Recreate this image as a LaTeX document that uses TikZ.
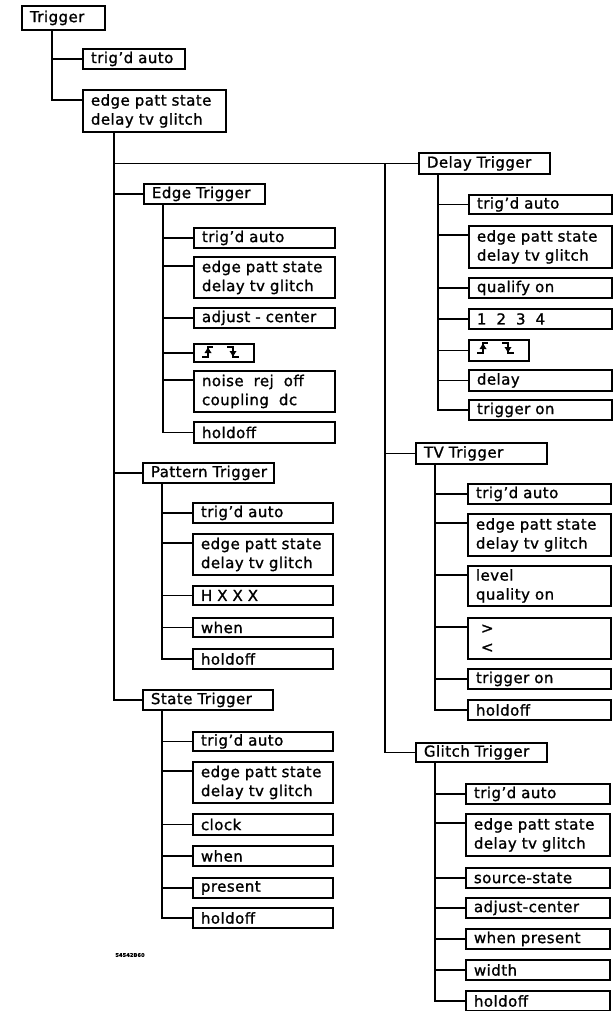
\documentclass[tikz,border=0pt]{standalone}
\usepackage{fontspec}
\setmainfont[LetterSpace=3,FakeBold=1.2]{DejaVu Sans}
\begin{document}
\begin{tikzpicture}[x=1pt,y=-1pt,
  box/.style={draw, line width=1.9pt, anchor=north west, inner xsep=8pt, inner ysep=0pt,
    align=left, font=\fontsize{15}{19}\selectfont},
  conn/.style={line width=1.8pt},
  sym/.style={line width=1.5pt}]
\useasboundingbox (0,0) rectangle (615,1011);
\newcommand\bx[6]{\pgfmathsetmacro\tw{#4-16}\node[box, text width=\tw pt, minimum height=#5pt] (#1) at (#2,#3) {#6};}
\newcommand\edgesym[1]{%
  \begin{scope}[shift={(#1.north west)}]
    \draw[sym] (9,14) -- (15,14) -- (15,4) -- (20,4);
    \fill (15,4.5) -- (11.5,10) -- (18.5,10) -- cycle;
    \draw[sym] (34,4) -- (40,4) -- (40,14) -- (46,14);
    \fill (40,13.5) -- (36.5,8) -- (43.5,8) -- cycle;
  \end{scope}}

% top level
\bx{trig}{21}{5}{83}{24}{Trigger}
\bx{a1}{82}{48}{102}{20}{trig'd auto}
\bx{a2}{82}{89}{143}{42}{edge patt state\\delay tv glitch}

% Edge Trigger
\bx{et}{143}{183}{121}{20}{Edge Trigger}
\bx{e1}{193}{227}{141}{20}{trig'd auto}
\bx{e2}{193}{256}{141}{41}{edge patt state\\delay tv glitch}
\bx{e3}{193}{307}{141}{20}{adjust - center}
\bx{e4}{193}{343}{60}{18}{}
\bx{e5}{193}{370}{141}{41}{noise\ \ rej\ \ off\\coupling\ \ dc}
\bx{e6}{193}{421}{141}{21}{holdoff}

% Pattern Trigger
\bx{pt}{142}{462}{131}{20}{\mbox{Pattern Trigger}}
\bx{p1}{192}{502}{140}{20}{trig'd auto}
\bx{p2}{192}{533}{140}{41}{edge patt state\\delay tv glitch}
\bx{p3}{192}{585}{140}{19}{H X X X}
\bx{p4}{192}{617}{140}{19}{when}
\bx{p5}{192}{648}{140}{20}{holdoff}

% State Trigger
\bx{st}{142}{689}{130}{20}{State Trigger}
\bx{s1}{192}{731}{140}{19}{trig'd auto}
\bx{s2}{192}{761}{140}{41}{edge patt state\\delay tv glitch}
\bx{s3}{192}{813}{140}{21}{clock}
\bx{s4}{192}{845}{140}{20}{when}
\bx{s5}{192}{877}{140}{20}{present}
\bx{s6}{192}{907}{140}{20}{holdoff}

% Delay Trigger
\bx{dt}{418}{152}{131}{21}{Delay Trigger}
\bx{d1}{468}{194}{143}{19}{trig'd auto}
\bx{d2}{468}{225}{143}{42}{edge patt state\\delay tv glitch}
\bx{d3}{468}{277}{143}{20}{qualify on}
\bx{d4}{468}{308}{143}{20}{1\ \ 2\ \ 3\ \ 4}
\bx{d5}{468}{339}{60}{21}{}
\bx{d6}{468}{369}{143}{21}{delay}
\bx{d7}{468}{399}{143}{20}{trigger on}

% TV Trigger
\bx{tv}{415}{442}{131}{21}{TV Trigger}
\bx{v1}{467}{483}{143}{20}{trig'd auto}
\bx{v2}{467}{513}{143}{42}{edge patt state\\delay tv glitch}
\bx{v3}{467}{565}{143}{40}{level\\quality on}
\bx{v4}{467}{617}{143}{41}{\ >\\\ <}
\bx{v5}{467}{668}{143}{20}{trigger on}
\bx{v6}{467}{699}{143}{20}{holdoff}

% Glitch Trigger
\bx{gt}{415}{742}{131}{19}{Glitch Trigger}
\bx{g1}{465}{783}{144}{20}{trig'd auto}
\bx{g2}{465}{813}{144}{42}{edge patt state\\delay tv glitch}
\bx{g3}{465}{867}{144}{20}{source-state}
\bx{g4}{465}{897}{144}{20}{adjust-center}
\bx{g5}{465}{928}{144}{20}{when present}
\bx{g6}{465}{959}{144}{20}{width}
\bx{g7}{465}{990}{144}{20}{holdoff}

% edge symbols
\edgesym{e4}
\edgesym{d5}

% figure number
\node[font=\fontsize{5}{6}\selectfont\bfseries, inner sep=0pt] (fig) at (130,955) {54542B60};

% connectors: top level
\draw[conn] ([xshift=31pt]trig.south west) |- (a1.west);
\draw[conn] ([xshift=31pt]trig.south west) |- ([yshift=-11pt]a2.north west);

% main branches
\foreach \c in {dt,et,pt,st}
  \draw[conn] ([xshift=32pt]a2.south west) |- (\c.west);
\coordinate (rj) at ([xshift=-33pt]dt.west);
\foreach \c in {tv,gt}
  \draw[conn] (rj) |- (\c.west);

% sub branches (single-line targets)
\foreach \p/\c in {et/e1,et/e3,et/e4,et/e6,pt/p1,pt/p3,pt/p4,pt/p5,
                   st/s1,st/s3,st/s4,st/s5,st/s6,
                   dt/d1,dt/d3,dt/d4,dt/d5,dt/d6,dt/d7,
                   tv/v1,tv/v5,tv/v6,
                   gt/g1,gt/g3,gt/g4,gt/g5,gt/g6,gt/g7}
  \draw[conn] ([xshift=20pt]\p.south west) |- (\c.west);
% sub branches (two-line targets)
\foreach \p/\c in {et/e2,et/e5,pt/p2,st/s2,dt/d2,tv/v2,tv/v3,tv/v4,gt/g2}
  \draw[conn] ([xshift=20pt]\p.south west) |- ([yshift=-10pt]\c.north west);
\end{tikzpicture}
\end{document}
